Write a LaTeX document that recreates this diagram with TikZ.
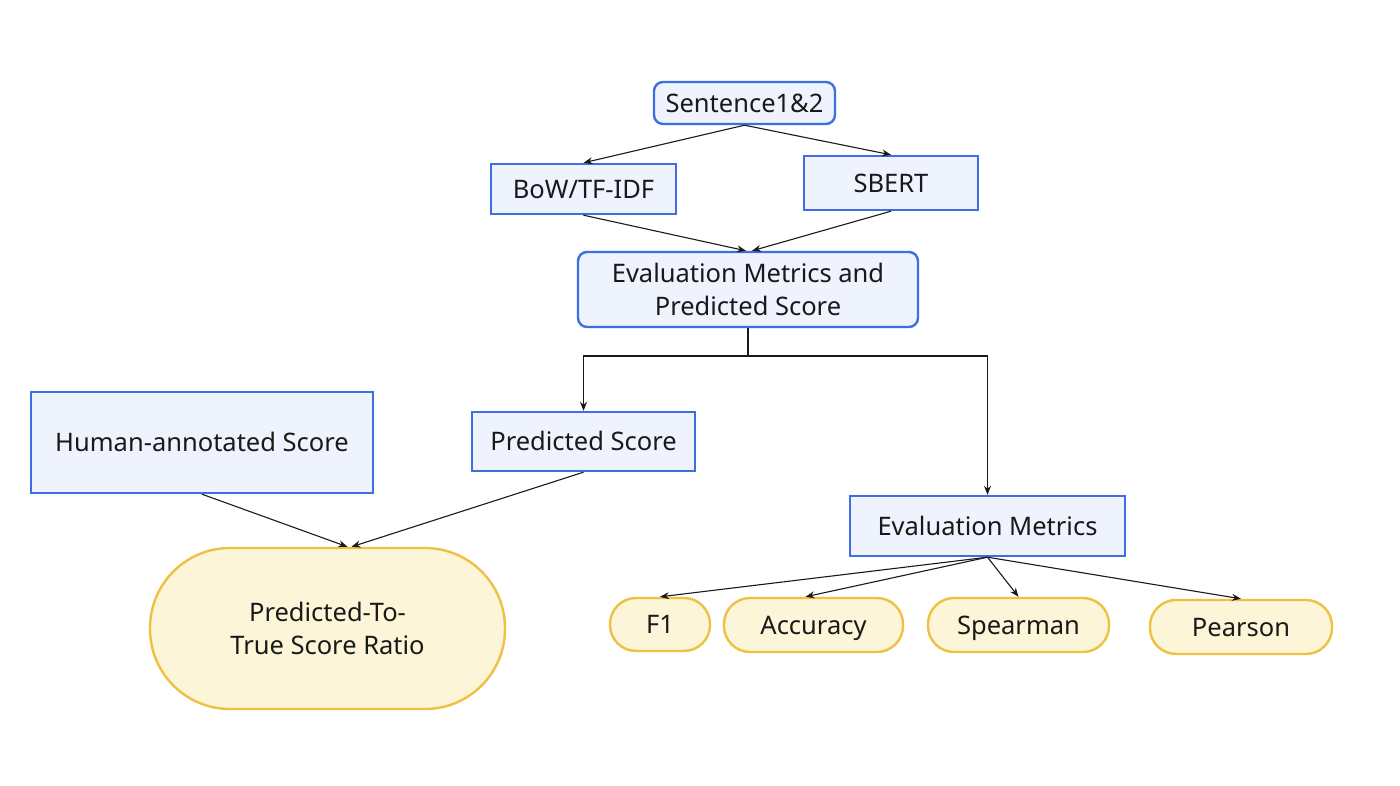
\documentclass[tikz,border=0pt]{standalone}
\usepackage{fontspec}
\setmainfont{Noto Sans}
\usetikzlibrary{arrows.meta,calc}
\definecolor{bfill}{HTML}{EEF3FD}
\definecolor{bdraw}{HTML}{3D6FE3}
\definecolor{yfill}{HTML}{FDF5D8}
\definecolor{ydraw}{HTML}{EFC143}
\definecolor{arr}{HTML}{1A1A1A}
\tikzset{
  bluebox/.style={draw=bdraw,fill=bfill,line width=2.4pt,inner sep=0pt,align=center,font=\fontsize{25.5}{33}\selectfont,text=black!90},
  yelbox/.style={draw=ydraw,fill=yfill,line width=2.4pt,inner sep=0pt,align=center,font=\fontsize{25.5}{33}\selectfont,text=black!90},
  oneline/.style={text height=18.3pt,text depth=0pt},
  conn/.style={draw=arr,line width=1.1pt,-{Stealth[length=9pt,width=7pt]}},
  plain/.style={draw=arr,line width=1.1pt}
}
\begin{document}
\begin{tikzpicture}[x=1pt,y=-1pt]
\useasboundingbox[fill=white] (0,0) rectangle (1400,786);
\node[bluebox,oneline,rounded corners=9pt,minimum width=181pt,minimum height=42pt] (s) at (744.5,103) {Sentence1\&2};
\node[bluebox,oneline,minimum width=185pt,minimum height=50pt] (bow) at (583.5,189) {BoW/TF-IDF};
\node[bluebox,oneline,minimum width=174pt,minimum height=54pt] (sb) at (891,183) {SBERT};
\node[bluebox,rounded corners=9pt,minimum width=340pt,minimum height=75pt] (emps) at (748,289.5) {Evaluation Metrics and\\Predicted Score};
\node[bluebox,oneline,minimum width=342pt,minimum height=101pt] (human) at (202,442.5) {Human-annotated Score};
\node[bluebox,oneline,minimum width=223pt,minimum height=59pt] (ps) at (583.5,441.5) {Predicted Score};
\node[bluebox,oneline,minimum width=275pt,minimum height=60pt] (em) at (987.5,526) {Evaluation Metrics};
\node[yelbox,rounded corners=80pt,minimum width=355pt,minimum height=161pt] (ratio) at (327.5,628.5) {Predicted-To-\\True Score Ratio};
\node[yelbox,oneline,rounded corners=26pt,minimum width=100pt,minimum height=53pt] (f1) at (660,624.5) {F1};
\node[yelbox,oneline,rounded corners=26pt,minimum width=179pt,minimum height=54pt] (acc) at (813.5,625) {Accuracy};
\node[yelbox,oneline,rounded corners=26pt,minimum width=181pt,minimum height=54pt] (sp) at (1018.5,625) {Spearman};
\node[yelbox,oneline,rounded corners=26pt,minimum width=182pt,minimum height=54pt] (pe) at (1241,627) {Pearson};
\coordinate (split) at (748,356);
\draw[conn] (s.south) -- (bow.north);
\draw[conn] (s.south) -- (sb.north);
\draw[conn] (bow.south) -- ($(emps.north)+(-2,0)$);
\draw[conn] (sb.south) -- ($(emps.north)+(4,0)$);
\draw[plain] (emps.south) -- (split);
\draw[conn] (split) -| (ps.north);
\draw[conn] (split) -| (em.north);
\draw[conn] (human.south) -- ($(ratio.north)+(20,0)$);
\draw[conn] (ps.south) -- ($(ratio.north)+(24,0)$);
\draw[conn] (em.south) -- (f1.north);
\draw[conn] (em.south) -- ($(acc.north)+(-8,0)$);
\draw[conn] (em.south) -- (sp.north);
\draw[conn] (em.south) -- (pe.north);
\end{tikzpicture}
\end{document}
